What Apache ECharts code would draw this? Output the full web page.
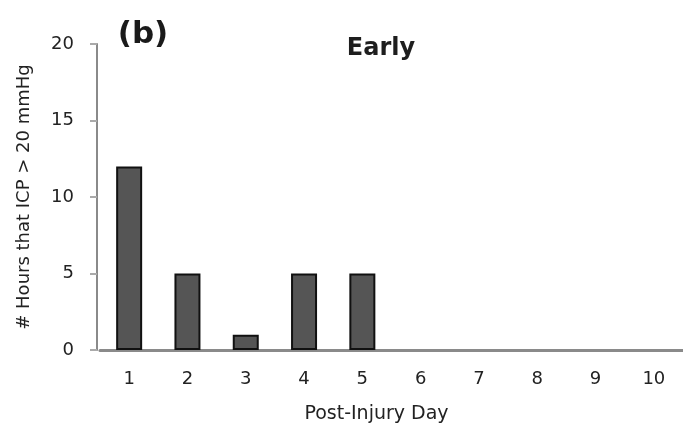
<!DOCTYPE html>
<html>
<head>
<meta charset="utf-8">
<script src="https://cdn.jsdelivr.net/npm/echarts@6/dist/echarts.min.js"></script>
<style>
html,body{margin:0;padding:0;background:#fff;}
#chart{width:683px;height:432px;}
</style>
</head>
<body>
<div id="chart"></div>
<script>
var days = ['1','2','3','4','5','6','7','8','9','10'];
var hoursAbove20 = [12, 5, 1, 5, 5, 0, 0, 0, 0, 0];
var yTicks = [0, 5, 10, 15, 20];

var FONT = 'DejaVu Sans';
var chart = echarts.init(document.getElementById('chart'), null, {renderer: 'canvas'});
chart.setOption({
  animation: false,
  backgroundColor: '#ffffff',
  title: [
    {text: '(b)', left: 138, top: 14, textAlign: 'center',
     textStyle: {fontFamily: FONT, fontSize: 31, fontWeight: 'bold', color: '#1a1a1a'}},
    {text: 'Early', left: 376, top: 32, textAlign: 'center',
     textStyle: {fontFamily: FONT, fontSize: 24, fontWeight: 'bold', color: '#1e1e1e'}}
  ],
  grid: {left: 100, right: 0, top: 44, bottom: 82, containLabel: false},
  xAxis: {
    type: 'category',
    data: days,
    boundaryGap: true,
    name: 'Post-Injury Day',
    nameLocation: 'middle',
    nameGap: 55,
    nameTextStyle: {fontFamily: FONT, fontSize: 19, color: '#222', padding: [0, 30, 0, 0]},
    axisLine: {lineStyle: {color: '#8a8a8a', width: 3}},
    axisTick: {show: false},
    axisLabel: {fontFamily: FONT, fontSize: 18, color: '#222', margin: 20}
  },
  yAxis: {
    type: 'value',
    min: yTicks[0],
    max: yTicks[yTicks.length - 1],
    interval: 5,
    offset: 3,
    name: '# Hours that ICP > 20 mmHg',
    nameLocation: 'middle',
    nameGap: 64,
    nameTextStyle: {fontFamily: FONT, fontSize: 18, color: '#222'},
    axisLine: {show: true, lineStyle: {color: '#8a8a8a', width: 2}},
    axisTick: {show: true, length: 7, lineStyle: {color: '#aaa', width: 2}},
    splitLine: {show: false},
    axisLabel: {fontFamily: FONT, fontSize: 18, color: '#222', margin: 23}
  },
  series: [{
    type: 'bar',
    barWidth: 26,
    data: hoursAbove20.map(function (v) {
      return v === 0 ? {value: v, itemStyle: {borderWidth: 0}} : v;
    }),
    itemStyle: {color: '#555555', borderColor: '#111111', borderWidth: 2}
  }]
});
</script>
</body>
</html>
